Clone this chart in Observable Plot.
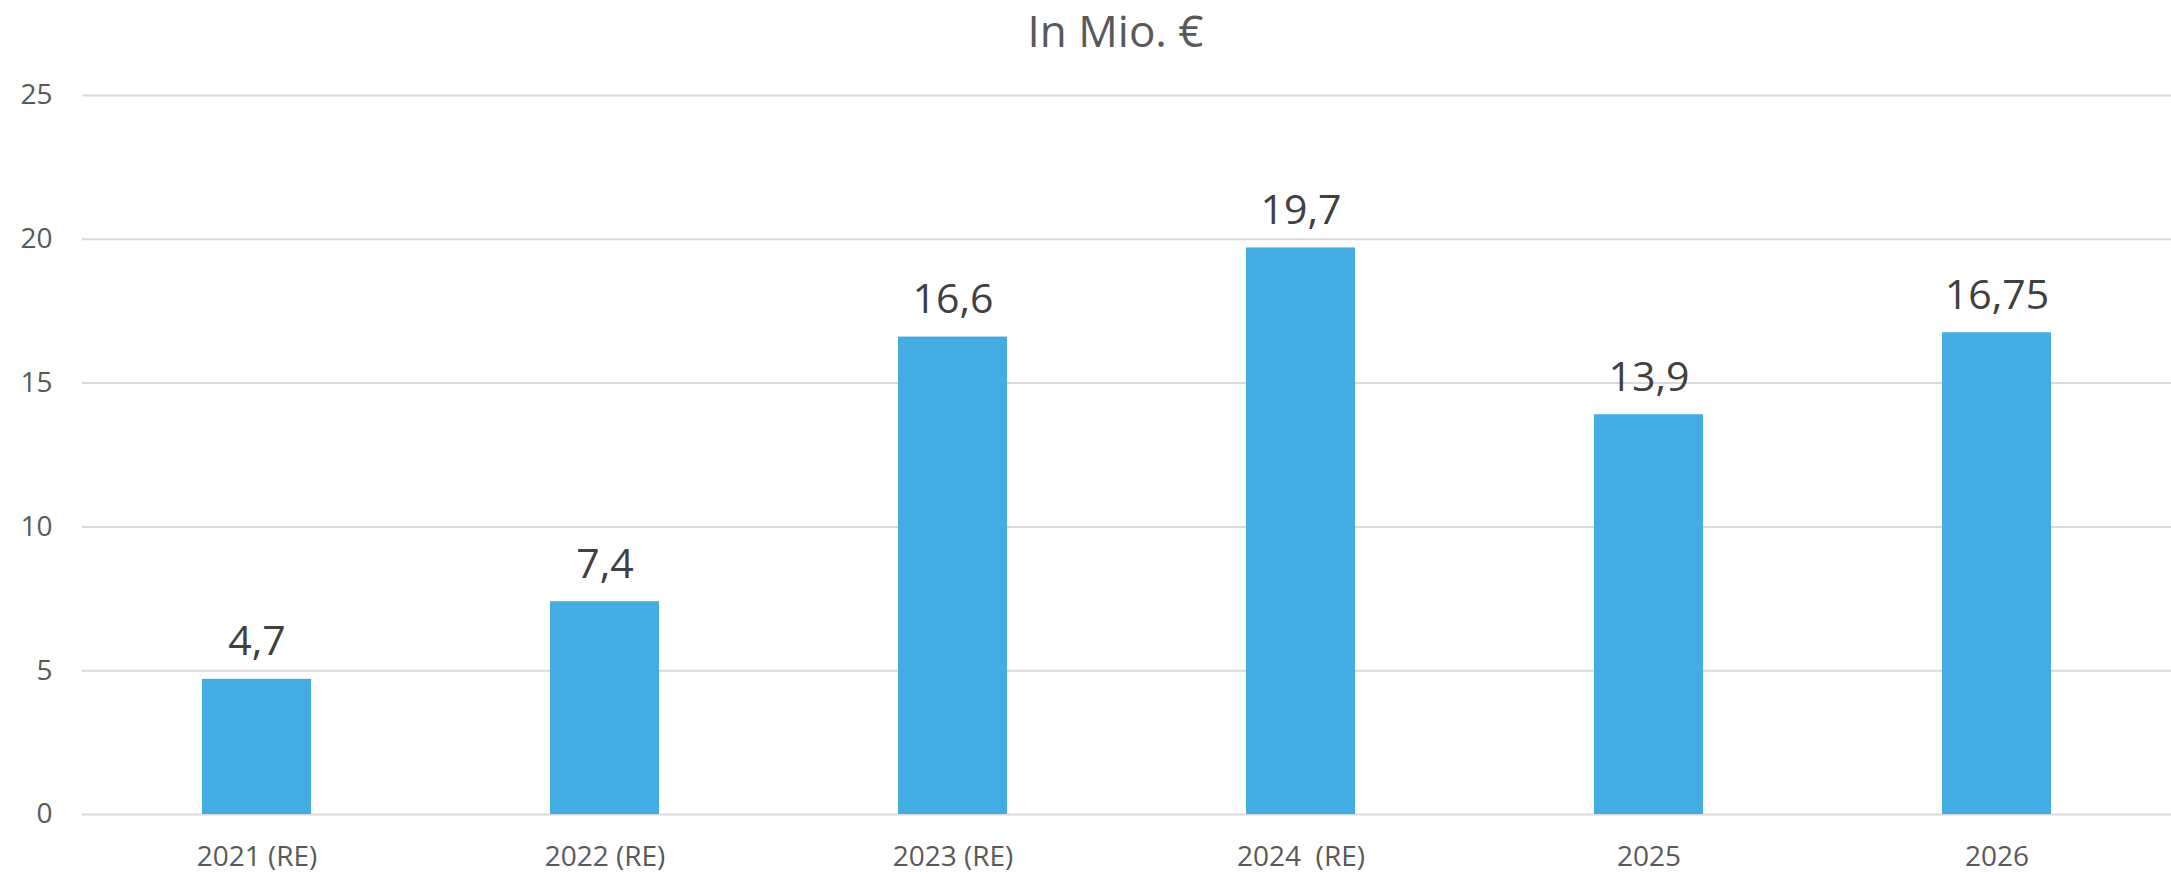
<!DOCTYPE html>
<html><head><meta charset="utf-8">
<script src="https://cdn.jsdelivr.net/npm/d3@7"></script>
<script src="https://cdn.jsdelivr.net/npm/@observablehq/plot@0.6"></script>
<style>
body{margin:0;background:#fff;font-family:"Open Sans",sans-serif;position:relative;}
#title{position:absolute;left:0;top:0;width:2171px;box-sizing:border-box;height:60px;line-height:60px;text-align:center;font-size:44px;color:#595959;padding-left:60px;}
#chart{padding-top:50px;}
</style></head><body>
<div id="chart"></div>
<div id="title">In Mio. €</div>
<script>
const categories = ["2021 (RE)", "2022 (RE)", "2023 (RE)", "2024  (RE)", "2025", "2026"];
const values = [4.7, 7.4, 16.6, 19.7, 13.9, 16.75];
const valueLabels = ["4,7", "7,4", "16,6", "19,7", "13,9", "16,75"];
const yTicks = [0, 5, 10, 15, 20, 25];

const data = categories.map((c, i) => ({category: c, value: values[i], label: valueLabels[i]}));

const chart = Plot.plot({
  width: 2171, height: 825,
  marginTop: 45, marginBottom: 61, marginLeft: 82, marginRight: 0,
  style: {fontFamily: '"Open Sans", sans-serif', fontSize: "28px", color: "#595959", background: "#fff"},
  x: {domain: categories, paddingInner: 0.687, paddingOuter: 0.3435, label: null},
  y: {domain: [0, 25], label: null},
  marks: [
    Plot.ruleY(yTicks, {stroke: "#d9d9d9", strokeWidth: 2}),
    Plot.barY(data, {x: "category", y: "value", fill: "#43ACE3"}),
    Plot.text(data, {x: "category", y: "value", text: "label", lineAnchor: "bottom", dy: -24, fontSize: 41, fill: "#404040"}),
    Plot.axisX({tickSize: 0, tickPadding: 32, label: null, tickFormat: d => d.replace(/  /g, "\u00a0 ")}),
    Plot.axisY({ticks: yTicks, tickSize: 0, tickPadding: 30, label: null})
  ]
});
document.getElementById("chart").appendChild(chart);
</script>
</body></html>
